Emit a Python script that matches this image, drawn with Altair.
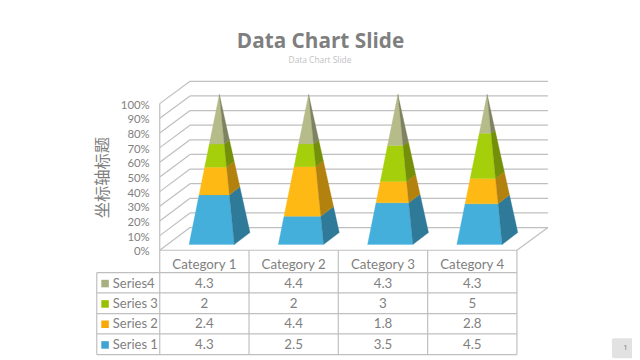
import altair as alt
import pandas as pd

categories = ["Category 1", "Category 2", "Category 3", "Category 4"]
series_names = ["Series 1", "Series 2", "Series 3", "Series4"]
series_1 = [4.3, 2.5, 3.5, 4.5]
series_2 = [2.4, 4.4, 1.8, 2.8]
series_3 = [2, 2, 3, 5]
series_4 = [4.3, 4.4, 4.3, 4.3]
series_values = [series_1, series_2, series_3, series_4]
front_colors = ["#45AFDB", "#FFB914", "#A6CF0B", "#B6BB8A"]
side_colors = ["#2F7A99", "#B3810D", "#748F08", "#7F8260"]
key_colors = ["#3FA3D3", "#F9A906", "#99C000", "#A8B080"]
percent_ticks = list(range(0, 101, 10))

GREY = "#7f7f7f"
LINE = "#bfbfbf"
FONT = "Lato"


def pct(py):
    return (250.0 - py) / 146.7 * 100.0


xs = alt.Scale(domain=[0, 640], range=[-8, 640], nice=False, zero=False)
ys = alt.Scale(domain=[pct(360), pct(0)], range=[354.5, -10], nice=False, zero=False)
X = alt.X("x:Q", scale=xs, axis=None)
Y = alt.Y("y:Q", scale=ys, axis=alt.Axis(
    values=percent_ticks, labelExpr="datum.value + '%'", orient="left", offset=-146,
    domain=False, ticks=False, grid=False, labelPadding=3, labelFont=FONT, labelFontSize=11.5,
    labelOffset=1.5,
    labelColor=GREY, title="坐标轴标题", titleFont="Noto Sans CJK SC", titleFontSize=16.5,
    titleFontWeight="normal", titleColor=GREY, titleX=-42, titleY=169,
    labelOverlap=False, labelFlush=False,
))

# rules of the 3D walls and the table
rules = []
for t in percent_ticks:
    yb = 227.3 - t / 100 * 146.3
    rules.append(dict(x=190, x2=548, y=pct(yb), y2=pct(yb)))
    rules.append(dict(x=159.7, x2=190, y=pct(250 - t / 100 * 146.7), y2=pct(yb)))
rules.append(dict(x=159.7, x2=159.7, y=pct(103.3), y2=pct(354.3)))
rules.append(dict(x=517, x2=548, y=pct(250), y2=pct(227.3)))
for py in [250, 272.3, 292.7, 313.3, 333.7, 354.3]:
    rules.append(dict(x=96.7 if py > 260 else 159.7, x2=517, y=pct(py), y2=pct(py)))
rules.append(dict(x=96.7, x2=96.7, y=pct(272.3), y2=pct(354.3)))
for vx in [249, 338.3, 427.7, 517]:
    rules.append(dict(x=vx, x2=vx, y=pct(250), y2=pct(354.3)))
rule_layer = alt.Chart(pd.DataFrame(rules)).mark_rule(color=LINE, strokeWidth=1.2).encode(
    x=X, x2="x2:Q", y=Y, y2="y2:Q"
)

# pyramids, computed from the stacked shares
polys = []
for c in range(4):
    off = c * 89.3
    fl = (189.0 + off, 244.3)
    fr = (234.3 + off, 244.3)
    br = (250.0 + off, 232.3)
    ap = (219.3 + off, 94.0)
    total = sum(s[c] for s in series_values)
    cum = 0.0

    def lerp(p, f):
        return (p[0] + (ap[0] - p[0]) * f, p[1] + (ap[1] - p[1]) * f)

    for s in range(4):
        f0 = cum / total
        cum += series_values[s][c]
        f1 = cum / total
        front = [lerp(fl, f0), lerp(fr, f0), lerp(fr, f1), lerp(fl, f1)]
        side = [lerp(fr, f0), lerp(br, f0), lerp(br, f1), lerp(fr, f1)]
        for name, quad, col in (("f", front, front_colors[s]), ("s", side, side_colors[s])):
            for i, p in enumerate(quad + quad[:1]):
                polys.append(dict(id=f"{c}-{s}-{name}", i=i, x=p[0], y=pct(p[1]), col=col))
poly_layer = alt.Chart(pd.DataFrame(polys)).mark_line(filled=True, strokeWidth=0.3, interpolate="linear").encode(
    x=X, y=Y, order="i:Q", detail="id:N",
    fill=alt.Fill("col:N", scale=None),
    stroke=alt.Stroke("col:N", scale=None),
)

# table text
col_x = [204.3, 293.6, 383, 472.3]
row_y = [344.7, 324, 303.7, 283.3]
cells = []
for c, name in enumerate(categories):
    cells.append(dict(x=col_x[c], y=pct(265.2), t=name))
    for s in range(4):
        cells.append(dict(x=col_x[c], y=pct(row_y[s]), t=str(series_values[s][c])))
cell_layer = alt.Chart(pd.DataFrame(cells)).mark_text(font=FONT, fontSize=13.5, color=GREY).encode(
    x=X, y=Y, text="t:N"
)
legend_df = pd.DataFrame([
    dict(x=105, tx=112.7, y=pct(row_y[s]), t=series_names[s], col=key_colors[s]) for s in range(4)
])
key_layer = alt.Chart(legend_df).mark_square(size=58, opacity=1, filled=True).encode(
    x=X, y=Y, fill=alt.Fill("col:N", scale=None)
)
key_text = alt.Chart(legend_df).mark_text(font=FONT, fontSize=13.2, color=GREY, align="left").encode(
    x=alt.X("tx:Q", scale=xs, axis=None), y=Y, text="t:N"
)

# headings and page number
title_layer = alt.Chart(pd.DataFrame([dict(x=320.5, y=pct(42), t="Data Chart Slide")])).mark_text(
    font="Open Sans", fontSize=21, fontWeight="bold", color=GREY
).encode(x=X, y=Y, text="t:N")
sub_layer = alt.Chart(pd.DataFrame([dict(x=320, y=pct(60), t="Data Chart Slide")])).mark_text(
    font="Open Sans", fontSize=8.5, color=LINE
).encode(x=X, y=Y, text="t:N")
box_layer = alt.Chart(pd.DataFrame([dict(x=612, x2=650, y=pct(338), y2=pct(358))])).mark_rect(
    color="#e2e2e2", cornerRadius=2
).encode(x=X, x2="x2:Q", y=Y, y2="y2:Q")
page_layer = alt.Chart(pd.DataFrame([dict(x=625.7, y=pct(348), t="1")])).mark_text(
    font="Open Sans", fontSize=8, color=GREY
).encode(x=X, y=Y, text="t:N")

chart = alt.layer(
    rule_layer, poly_layer, cell_layer, key_layer, key_text,
    title_layer, sub_layer, box_layer, page_layer,
).properties(
    width=632, height=352, padding=0,
    autosize=alt.AutoSizeParams(type="none"),
).configure_view(stroke=None)

chart.save("out.html", embed_options={"renderer": "svg", "actions": False})
